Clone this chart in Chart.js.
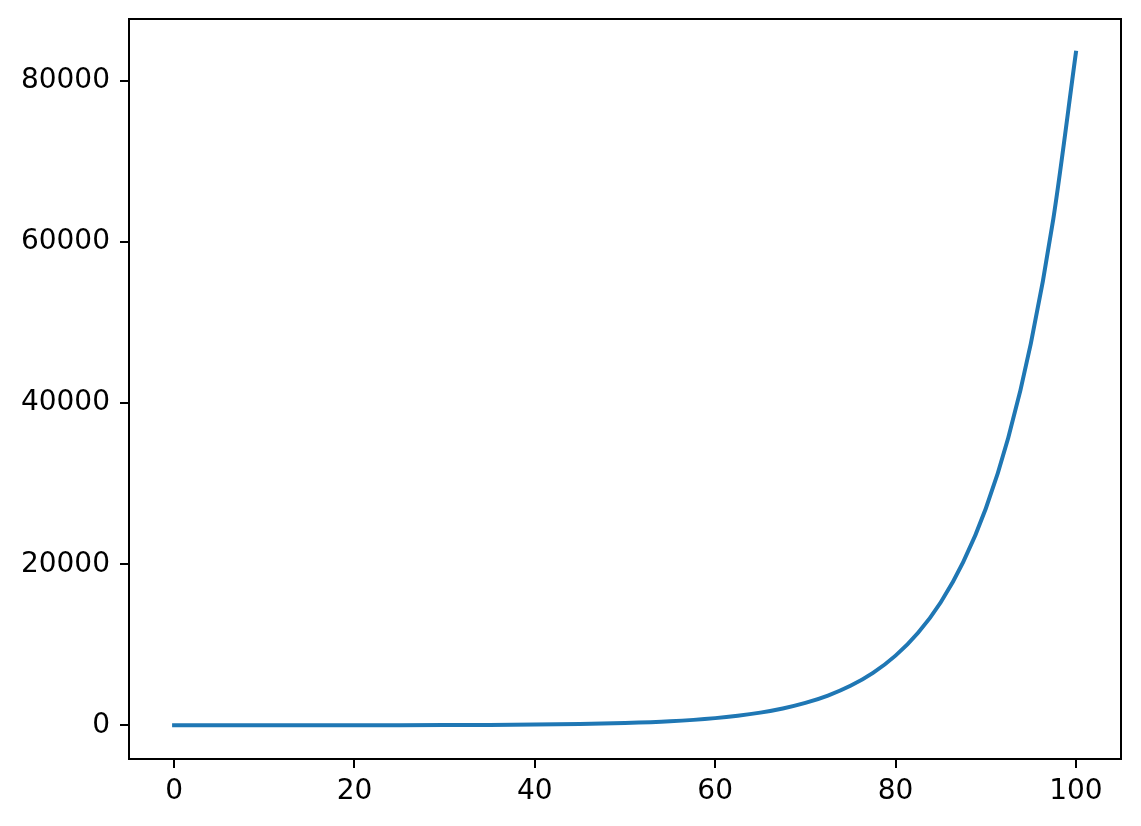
<!DOCTYPE html>
<html>
<head>
<meta charset="utf-8">
<script src="https://cdn.jsdelivr.net/npm/chart.js@4/dist/chart.umd.min.js"></script>
<style>
  html, body { margin: 0; padding: 0; background: #fff; }
  canvas { display: block; }
</style>
</head>
<body>
<canvas id="growthChart" width="1141" height="826"></canvas>
<script>
// values
var xs = [0, 5, 10, 15, 20, 25, 30, 35, 40, 45, 50, 55, 60, 62.5, 65, 67.5, 70, 72.5, 75, 77.5, 80, 82.5, 85, 87.5, 90, 92.5, 95, 97.5, 100];
var ys = [1, 1.8, 3.1, 5.5, 9.6, 17, 30, 53, 93, 164, 289, 509, 898, 1192, 1582, 2100, 2788, 3701, 4913, 6522, 8659, 11495, 15259, 20258, 26892, 35702, 47393, 62918, 83522];
var xTicks = [0, 20, 40, 60, 80, 100];
var yTicks = [0, 20000, 40000, 60000, 80000];

var points = [];
for (var i = 0; i < xs.length; i++) {
    points.push({ x: xs[i], y: ys[i] });
}

var tickFont = { family: "DejaVu Sans", size: 28 };

// draws the top and right spines too
var frame = {
    id: "frame",
    afterDraw: function (chart) {
        var a = chart.chartArea;
        var ctx = chart.ctx;
        ctx.save();
        ctx.strokeStyle = "#000";
        ctx.lineWidth = 2;
        ctx.strokeRect(a.left, a.top, a.right - a.left, a.bottom - a.top);
        ctx.restore();
    }
};

new Chart("growthChart", {
    type: "line",
    data: {
        datasets: [{
            data: points,
            borderColor: "#1f77b4",
            borderWidth: 4,
            borderCapStyle: "square",
            pointRadius: 0,
            fill: false,
            cubicInterpolationMode: "monotone"
        }]
    },
    options: {
        responsive: false,
        animation: false,
        devicePixelRatio: 1,
        layout: { padding: { top: 19, right: 20, left: 0, bottom: 0 } },
        plugins: { legend: { display: false }, tooltip: { enabled: false } },
        scales: {
            x: {
                type: "linear",
                min: -5,
                max: 105,
                afterBuildTicks: function (s) { s.ticks = xTicks.map(function (v) { return { value: v }; }); },
                afterFit: function (s) { s.height = 67; s.paddingLeft = 0; s.paddingRight = 0; },
                grid: { drawOnChartArea: false, drawTicks: true, tickLength: 9, color: "#000", lineWidth: 2 },
                border: { display: false },
                ticks: { color: "#000", font: tickFont, padding: 7, maxRotation: 0 }
            },
            y: {
                type: "linear",
                min: -4176,
                max: 87698,
                afterBuildTicks: function (s) { s.ticks = yTicks.map(function (v) { return { value: v }; }); },
                afterFit: function (s) { s.width = 129; s.paddingTop = 0; s.paddingBottom = 0; },
                grid: { drawOnChartArea: false, drawTicks: true, tickLength: 9, color: "#000", lineWidth: 2 },
                border: { display: false },
                ticks: { color: "#000", font: tickFont, padding: 10, callback: function (v) { return String(v); } }
            }
        }
    },
    plugins: [frame]
});
</script>
</body>
</html>
